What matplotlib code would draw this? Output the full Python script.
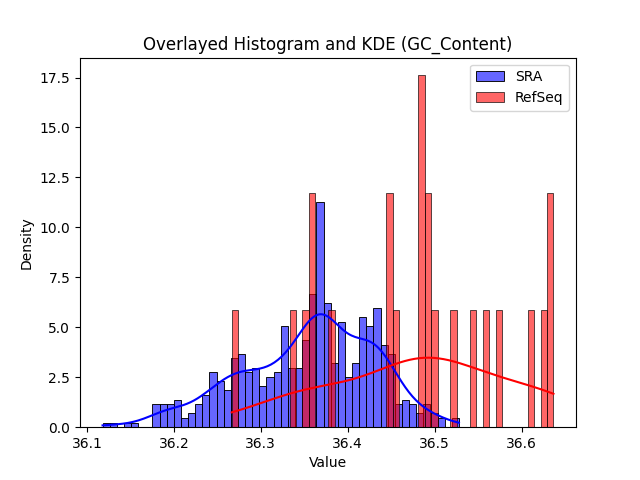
import numpy as np
import matplotlib
matplotlib.use("Agg")
import matplotlib.pyplot as plt
import seaborn as sns

# GC content per-bin counts (50 bins spanning min..max of each set)
sra_range = (36.118, 36.528)
sra_counts = [1, 1, 0, 1, 1, 0, 0, 5, 5, 5,
              6, 2, 3, 5, 7, 12, 10, 8, 15, 16,
              12, 13, 9, 11, 12, 22, 13, 13, 19, 29,
              49, 27, 14, 23, 11, 14, 24, 22, 26, 18,
              16, 5, 6, 5, 3, 5, 3, 2, 0, 2]

refseq_range = (36.2665, 36.6367)
refseq_counts = [1, 0, 0, 0, 0, 0, 0, 0, 0, 1,
                 0, 1, 2, 0, 0, 1, 0, 0, 0, 0,
                 0, 0, 0, 0, 2, 1, 0, 0, 0, 3,
                 2, 1, 0, 0, 1, 0, 0, 1, 0, 1,
                 0, 1, 0, 0, 0, 0, 1, 0, 1, 2]


def expand(counts, lo, hi):
    # turn bin counts back into sample values (ends pinned to min / max)
    edges = np.linspace(lo, hi, len(counts) + 1)
    centers = (edges[:-1] + edges[1:]) / 2
    centers[0] = lo
    centers[-1] = hi
    return np.repeat(centers, counts)


sra = expand(sra_counts, *sra_range)
refseq = expand(refseq_counts, *refseq_range)

fig, ax = plt.subplots(figsize=(6.4, 4.8), dpi=100)
sns.histplot(sra, bins=50, stat="density", kde=True, color="blue", alpha=0.6, label="SRA", ax=ax)
sns.histplot(refseq, bins=50, stat="density", kde=True, color="red", alpha=0.6, label="RefSeq", ax=ax)

ax.set_title("Overlayed Histogram and KDE (GC_Content)")
ax.set_xlabel("Value")
ax.set_ylabel("Density")
ax.legend()

fig.savefig("out.png")
